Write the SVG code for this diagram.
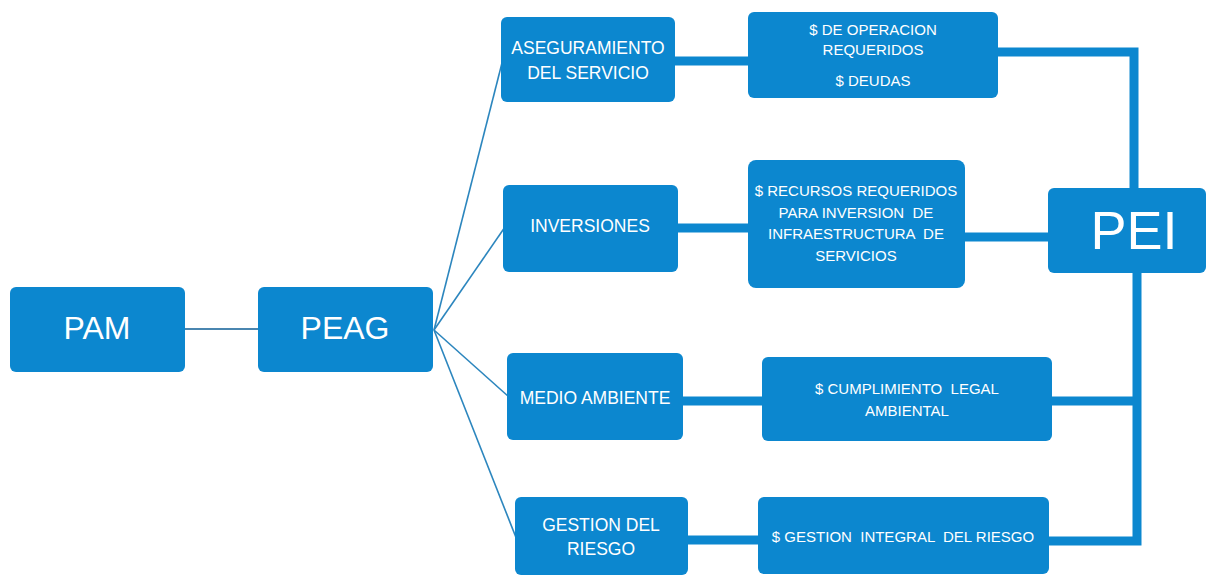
<svg xmlns="http://www.w3.org/2000/svg" width="1209" height="578" viewBox="0 0 1209 578">
<style>
.box{fill:#0C87CF;}
.t{font-family:"Liberation Sans",Arial,sans-serif;fill:#ffffff;text-anchor:middle;}
.big{font-size:32px;}
.mid{font-size:17.5px;}
.sm{font-size:15px;white-space:pre;}
.pei{font-size:54px;}
.thick{fill:none;stroke:#0C87CF;stroke-width:9;stroke-linejoin:miter;}
.fan{fill:none;stroke:#2C86BE;stroke-width:1.6;}
.thin{fill:none;stroke:#4A86B0;stroke-width:2;}
</style>
<rect width="1209" height="578" fill="#ffffff"/>
<g id="connectors">
<line class="thin" x1="185" y1="329" x2="258" y2="329"/>
<line class="fan" x1="434" y1="330" x2="503" y2="59"/>
<line class="fan" x1="434" y1="330" x2="505" y2="227"/>
<line class="fan" x1="434" y1="330" x2="509" y2="397"/>
<line class="fan" x1="434" y1="330" x2="517" y2="540"/>
<line class="thick" x1="675" y1="61" x2="748" y2="61"/>
<line class="thick" x1="678" y1="228" x2="748" y2="228"/>
<line class="thick" x1="683" y1="401" x2="762" y2="401"/>
<line class="thick" x1="688" y1="540" x2="758" y2="540"/>
<path class="thick" d="M998 52 H1134 V188"/>
<line class="thick" x1="965" y1="237" x2="1048" y2="237"/>
<path class="thick" d="M1049 541 H1137 V273"/>
<line class="thick" x1="1052" y1="401" x2="1137" y2="401"/>
</g>
<g id="pam">
<rect class="box" x="10" y="287" width="175" height="85" rx="6"/>
<text class="t big" x="97" y="339">PAM</text>
</g>
<g id="peag">
<rect class="box" x="258" y="287" width="175" height="85" rx="6"/>
<text class="t big" x="345" y="339">PEAG</text>
</g>
<g id="aseguramiento">
<rect class="box" x="501" y="17" width="174" height="85" rx="6"/>
<text class="t mid" x="588" y="54">ASEGURAMIENTO</text>
<text class="t mid" x="588" y="79">DEL SERVICIO</text>
</g>
<g id="inversiones">
<rect class="box" x="503" y="185" width="175" height="87" rx="6"/>
<text class="t mid" x="590" y="232">INVERSIONES</text>
</g>
<g id="medio-ambiente">
<rect class="box" x="507" y="353" width="176" height="87" rx="6"/>
<text class="t mid" x="595" y="404">MEDIO AMBIENTE</text>
</g>
<g id="gestion-riesgo">
<rect class="box" x="515" y="497" width="173" height="78" rx="6"/>
<text class="t mid" x="601" y="531">GESTION DEL</text>
<text class="t mid" x="601" y="555">RIESGO</text>
</g>
<g id="operacion">
<rect class="box" x="748" y="12" width="250" height="86" rx="6"/>
<text class="t sm" x="873" y="35">$ DE OPERACION</text>
<text class="t sm" x="873" y="55">REQUERIDOS</text>
<text class="t sm" x="873" y="86">$ DEUDAS</text>
</g>
<g id="recursos">
<rect class="box" x="748" y="160" width="217" height="128" rx="8"/>
<text class="t sm" x="856" y="196">$ RECURSOS REQUERIDOS</text>
<text class="t sm" x="856" y="218">PARA INVERSION  DE</text>
<text class="t sm" x="856" y="239">INFRAESTRUCTURA  DE</text>
<text class="t sm" x="856" y="261">SERVICIOS</text>
</g>
<g id="cumplimiento">
<rect class="box" x="762" y="357" width="290" height="84" rx="6"/>
<text class="t sm" x="907" y="394">$ CUMPLIMIENTO  LEGAL</text>
<text class="t sm" x="907" y="416">AMBIENTAL</text>
</g>
<g id="gestion-integral">
<rect class="box" x="758" y="497" width="291" height="77" rx="6"/>
<text class="t sm" x="903" y="542">$ GESTION  INTEGRAL  DEL RIESGO</text>
</g>
<g id="pei">
<rect class="box" x="1048" y="188" width="158" height="85" rx="6"/>
<text class="t pei" x="1134" y="249">PEI</text>
</g>
</svg>
